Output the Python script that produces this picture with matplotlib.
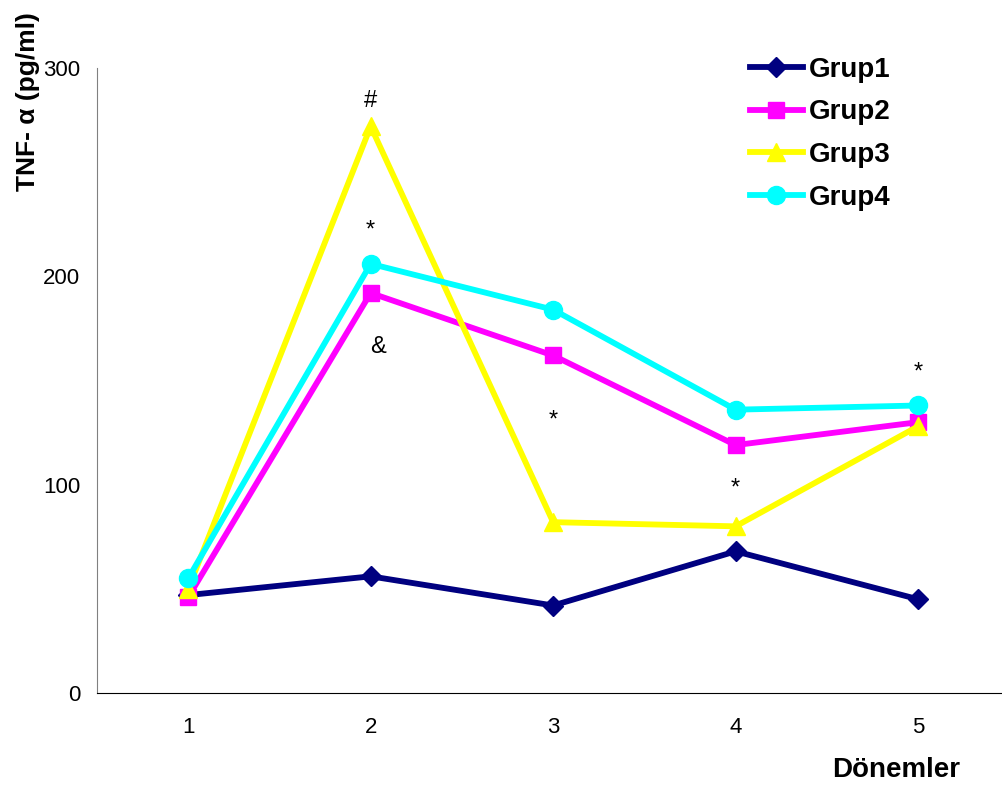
import matplotlib
matplotlib.use("Agg")
import matplotlib.pyplot as plt

plt.rcParams['font.family'] = ['Liberation Sans', 'DejaVu Sans']

# Data
periods = [1, 2, 3, 4, 5]
grup1 = [47, 56, 42, 68, 45]
grup2 = [46, 192, 162, 119, 130]
grup3 = [50, 272, 82, 80, 128]
grup4 = [55, 206, 184, 136, 138]
series_names = ["Grup1", "Grup2", "Grup3", "Grup4"]

# significance marks (x, y, text)
mark_x = [2, 2, 2.04, 3, 4, 5]
mark_y = [284, 222, 166, 131, 98, 154]
mark_text = ["#", "*", "&", "*", "*", "*"]

fig = plt.figure(figsize=(10.02, 7.89), dpi=100)
ax = fig.add_axes([97 / 1002, 96 / 789, 905 / 1002, 625 / 789])

styles = [
    ("#000080", "D", 10),
    ("#ff00ff", "s", 12),
    ("#ffff00", "^", 13),
    ("#00ffff", "o", 13),
]
for vals, name, (col, mk, ms) in zip([grup1, grup2, grup3, grup4], series_names, styles):
    ax.plot(periods, vals, color=col, marker=mk, markersize=ms, linewidth=4.2,
            label=name)

for x, y, t in zip(mark_x, mark_y, mark_text):
    ax.text(x, y, t, ha='center', va='center', fontsize=17)

ax.set_xlim(0.5, 5.46)
ax.set_ylim(0, 300)
ax.set_yticks([0, 100, 200, 300])
ax.set_xticks(periods)
ax.tick_params(axis='both', length=0, labelsize=16)
ax.tick_params(axis='x', pad=17)
ax.tick_params(axis='y', pad=12)
for s in ['top', 'right']:
    ax.spines[s].set_visible(False)
ax.spines['left'].set_color('#808080')
ax.spines['bottom'].set_color('black')

fig.text(0.028, 0.871, "TNF- α (pg/ml)", rotation=90, ha='center', va='center',
         fontsize=19, fontweight='bold')
fig.text(0.894, 0.024, "Dönemler", ha='center', va='center',
         fontsize=20, fontweight='bold')

leg = ax.legend(loc='upper left', bbox_to_anchor=(0.694, 1.058), frameon=False,
                prop={'size': 20, 'weight': 'bold'}, handlelength=1.9,
                handletextpad=0.2, labelspacing=0.6)

fig.savefig("out.png", dpi=100)
